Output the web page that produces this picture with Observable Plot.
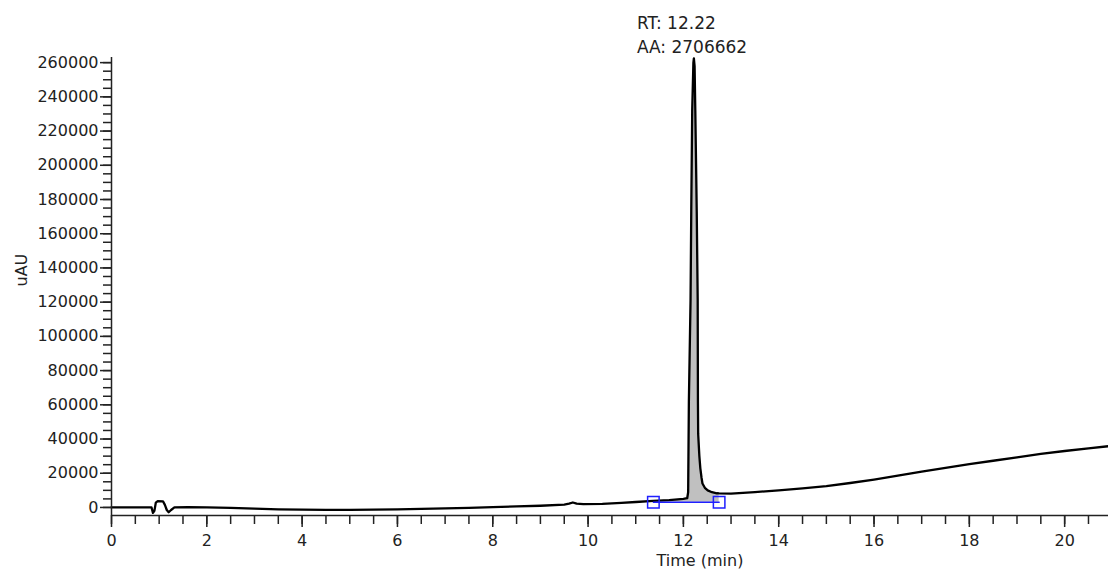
<!DOCTYPE html>
<html>
<head>
<meta charset="utf-8">
<script src="https://cdn.jsdelivr.net/npm/d3@7"></script>
<script src="https://cdn.jsdelivr.net/npm/@observablehq/plot@0.6"></script>
<style>
  html, body { margin: 0; padding: 0; background: #fff; }
</style>
</head>
<body>
<div id="chart"></div>
<script>
// Retention time (min)
const times = [
  0, 0.5, 0.84, 0.87, 0.9, 0.93, 0.97, 1.08, 1.12, 1.16, 1.2, 1.25, 1.32, 1.6,
  2, 2.5, 3, 3.5, 4, 4.5, 5, 5.5, 6, 6.5, 7, 7.5, 8, 8.5, 9, 9.5, 9.6, 9.68, 9.76, 9.9,
  10.3, 10.7, 11.0, 11.37, 11.7, 12.0, 12.08, 12.1, 12.115, 12.15, 12.165, 12.185, 12.21,
  12.22, 12.235, 12.25, 12.28, 12.3, 12.305, 12.31, 12.335, 12.355, 12.38, 12.4, 12.45, 12.51, 12.6, 12.7, 12.75,
  13.0, 13.5, 14, 14.5, 15, 15.5, 16, 16.5, 17, 17.5, 18, 18.5, 19, 19.5, 20, 20.5, 20.92
];
// Detector signal (uAU)
const signal = [
  0, 0, 0, -3200, -2000, 2800, 3700, 3600, 1500, -1500, -2800, -1500, 0, 200,
  0, -300, -700, -1100, -1300, -1400, -1400, -1300, -1100, -800, -500, -200, 200, 600, 1000, 1600, 2200, 2900, 2200, 2000,
  2100, 2700, 3200, 3900, 4300, 5000, 5400, 9000, 62000, 121000, 173000, 232000, 260000,
  262500, 258000, 232000, 173000, 121000, 62000, 43000, 30000, 23000, 17500, 14000, 11500, 10000, 8900, 8300, 8200,
  8100, 9000, 10000, 11100, 12500, 14300, 16300, 18600, 21000, 23200, 25300, 27300, 29300, 31300, 33000, 34500, 35800
];
// Integration of the peak
const peakStart = 11.37;
const peakEnd = 12.75;
const baseLevel = 3100;
const peakRT = 12.22;
const peakArea = 2706662;

// Axis ticks and labels
const xMajorTicks = d3.range(0, 21, 2);
const xMinorTicks = d3.range(0, 21, 0.5);
const yMajorTicks = d3.range(0, 260001, 20000);
const yMinorTicks = d3.range(0, 262001, 5000);
const xLabel = "Time (min)";
const yLabel = "uAU";

const data = times.map((t, i) => ({t, v: signal[i]}));
const peakData = data.filter(d => d.t >= peakStart && d.t <= peakEnd);
const baseline = [{t: peakStart, v: baseLevel}, {t: peakEnd, v: baseLevel}];
const annotation = [{t: peakRT, text: `RT: ${peakRT.toFixed(2)}\nAA: ${peakArea}`}];

const xDomain = d3.extent(times);
const yDomain = [-4700, 263000];
const ink = "#222";
const blue = "#1f1fff";

const chart = Plot.plot({
  width: 1108,
  height: 575,
  marginLeft: 111,
  marginRight: 0,
  marginTop: 57,
  marginBottom: 60,
  style: {fontFamily: "DejaVu Sans", fontSize: "16px", color: ink, background: "#fff"},
  x: {domain: xDomain},
  y: {domain: yDomain},
  marks: [
    Plot.areaY(peakData, {x: "t", y1: () => baseLevel, y2: "v", fill: "#c0c0c0"}),
    Plot.line(data, {x: "t", y: "v", stroke: "#000", strokeWidth: 2.3}),
    Plot.line(baseline, {x: "t", y: "v", stroke: blue, strokeWidth: 1.5}),
    Plot.dot(baseline, {x: "t", y: "v", symbol: "square", r: 6.5, stroke: blue, strokeWidth: 1.5, fill: "none"}),
    Plot.ruleX([xDomain[0]], {stroke: ink, strokeWidth: 1.5}),
    Plot.ruleY([yDomain[0]], {stroke: ink, strokeWidth: 1.5}),
    Plot.axisX({ticks: xMajorTicks, tickSize: 12, tickPadding: 7, tickFormat: d => String(d), label: null, strokeWidth: 1.5}),
    Plot.axisX({ticks: xMinorTicks, tickSize: 9, fill: "none", label: null, strokeWidth: 1.5}),
    Plot.axisY({ticks: yMajorTicks, tickSize: 11, tickPadding: 2, tickFormat: d => String(d), label: null, strokeWidth: 1.5}),
    Plot.axisY({ticks: yMinorTicks, tickSize: 8, fill: "none", label: null, strokeWidth: 1.5}),
    Plot.text(annotation, {x: "t", text: "text", frameAnchor: "top", textAnchor: "start", lineAnchor: "bottom", lineHeight: 1.4, dx: -57, dy: -5, fontSize: 17, fill: ink}),
    Plot.text([yLabel], {frameAnchor: "left", rotate: -90, dx: -90, fontSize: 16, fill: ink}),
    Plot.text([xLabel], {frameAnchor: "bottom", dx: 90, dy: 50, fontSize: 16, fill: ink})
  ]
});
document.getElementById("chart").appendChild(chart);
</script>
</body>
</html>
